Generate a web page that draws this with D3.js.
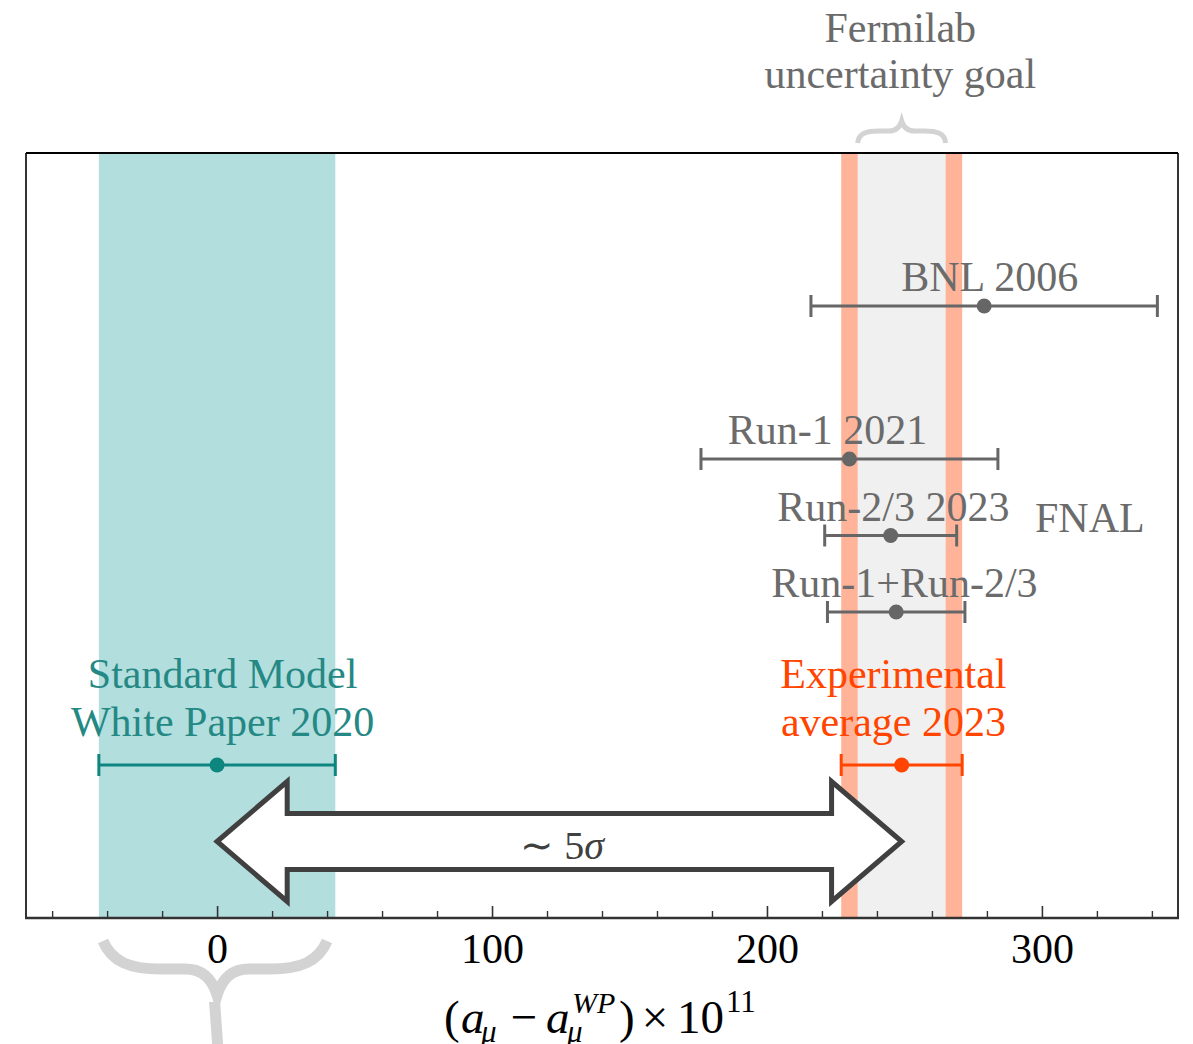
<!DOCTYPE html>
<html><head><meta charset="utf-8">
<script src="https://cdn.jsdelivr.net/npm/d3@7"></script>
<style>
html,body{margin:0;padding:0;background:#fff;}
svg{display:block;font-family:"Liberation Serif","Times New Roman",serif;}
</style></head>
<body>
<svg id="chart" width="1193" height="1044"></svg>
<script>
// ---- data (units of 1e-11, relative to WP 2020) ----
const expNames   = ["BNL 2006", "Run-1 2021", "Run-2/3 2023", "Run-1+Run-2/3"];
const expValues  = [279, 230, 245, 247];
const expErrors  = [63, 54, 24, 25];
const expRows    = [8, 6, 5, 4];
const expLabelX  = [281, 222, 246, 250];

const smName     = ["Standard Model", "White Paper 2020"];
const smValue    = 0;
const smError    = 43;
const avgName    = ["Experimental", "average 2023"];
const avgValue   = 249;
const avgError   = 22;
const goalError  = 16;
const goalName   = ["Fermilab", "uncertainty goal"];
const resultRow  = 2;
const arrowRow   = 1;
const fnalLabel  = "FNAL";

const majorTicks = [0, 100, 200, 300];
const minorTicks = d3.range(-60, 341, 20).filter(v => v % 100 !== 0);
const xDomain    = [-69.5, 349.5];

// ---- layout ----
const L = 26, R = 1178, T = 153, B = 918;
const svg = d3.select("#chart");
const x = d3.scaleLinear().domain(xDomain).range([L, R]);
const y = d3.scaleLinear().domain([0, 10]).range([B, T]);

const GRAY = "#6b6b6b", GRAYBAR = "#666666";
const TEAL_TXT = "#248884", TEAL_BAR = "#0d8680";
const ORANGE = "#ff4500";
const FS = 42;

// bands
svg.append("rect").attr("x", x(smValue - smError)).attr("y", T)
  .attr("width", x(smValue + smError) - x(smValue - smError)).attr("height", B - T)
  .attr("fill", "#b3dede");
svg.append("rect").attr("x", x(avgValue - avgError)).attr("y", T)
  .attr("width", x(avgValue + avgError) - x(avgValue - avgError)).attr("height", B - T)
  .attr("fill", "#ffb499");
svg.append("rect").attr("x", x(avgValue - goalError)).attr("y", T)
  .attr("width", x(avgValue + goalError) - x(avgValue - goalError)).attr("height", B - T)
  .attr("fill", "#f0f0f0");

// double arrow
const ay = y(arrowRow), hl = x(25.5) - x(0), sh = 28, hh = 60;
const x0 = x(smValue), x1 = x(avgValue);
const arrowPts = [
  [x0, ay], [x0 + hl, ay - hh], [x0 + hl, ay - sh], [x1 - hl, ay - sh], [x1 - hl, ay - hh],
  [x1, ay], [x1 - hl, ay + hh], [x1 - hl, ay + sh], [x0 + hl, ay + sh], [x0 + hl, ay + hh]
];
svg.append("path").attr("d", d3.line()(arrowPts) + "Z")
  .attr("fill", "#fff").attr("stroke", "#404040").attr("stroke-width", 5)
  .attr("stroke-linejoin", "miter");
const at = svg.append("text").attr("x", x(125.5)).attr("y", ay + 17)
  .attr("text-anchor", "middle").attr("font-size", 40).attr("fill", "#404040");
at.append("tspan").text("∼ 5");
at.append("tspan").attr("font-style", "italic").text("σ");

// error bar helper
function errbar(v, e, row, color) {
  const g = svg.append("g");
  const yy = y(row);
  g.append("line").attr("x1", x(v - e)).attr("x2", x(v + e)).attr("y1", yy).attr("y2", yy)
    .attr("stroke", color).attr("stroke-width", 3);
  [v - e, v + e].forEach(c => g.append("line").attr("x1", x(c)).attr("x2", x(c))
    .attr("y1", yy - 11).attr("y2", yy + 11).attr("stroke", color).attr("stroke-width", 3));
  g.append("circle").attr("cx", x(v)).attr("cy", yy).attr("r", 7.5).attr("fill", color);
}

expValues.forEach((v, i) => {
  errbar(v, expErrors[i], expRows[i], GRAYBAR);
  svg.append("text").attr("x", x(expLabelX[i])).attr("y", y(expRows[i]) - 15)
    .attr("text-anchor", "middle").attr("font-size", FS).attr("fill", GRAY).text(expNames[i]);
});
svg.append("text").attr("x", x(297.5)).attr("y", y(5) - 4)
  .attr("font-size", FS).attr("fill", GRAY).text(fnalLabel);

errbar(smValue, smError, resultRow, TEAL_BAR);
smName.forEach((t, i) => svg.append("text").attr("x", x(2)).attr("y", y(resultRow) - 77 + 48 * i)
  .attr("text-anchor", "middle").attr("font-size", FS).attr("fill", TEAL_TXT).text(t));

errbar(avgValue, avgError, resultRow, ORANGE);
avgName.forEach((t, i) => svg.append("text").attr("x", x(246)).attr("y", y(resultRow) - 77 + 48 * i)
  .attr("text-anchor", "middle").attr("font-size", FS).attr("fill", ORANGE).text(t));

// Fermilab goal annotation
goalName.forEach((t, i) => svg.append("text").attr("x", x(248.5)).attr("y", 42 + 46 * i)
  .attr("text-anchor", "middle").attr("font-size", FS).attr("fill", GRAY).text(t));
{
  const a = x(avgValue - goalError), b = x(avgValue + goalError), c = (a + b) / 2;
  svg.append("path").attr("d",
    `M${a},143 C${a+1},133 ${a+9},131 ${a+21},131 L${c-13},131 C${c-6},131 ${c-2},128 ${c},121 ` +
    `C${c+2},128 ${c+6},131 ${c+13},131 L${b-21},131 C${b-9},131 ${b-1},133 ${b},143`)
    .attr("fill", "none").attr("stroke", "#d3d3d3").attr("stroke-width", 5);
}

// axis
const gx = svg.append("g").attr("transform", `translate(0,${B})`);
gx.call(d3.axisBottom(x).tickValues(majorTicks).tickSizeInner(-12).tickSizeOuter(0).tickPadding(15));
gx.select(".domain").remove();
gx.selectAll(".tick line").attr("stroke", "#333").attr("stroke-width", 1.6);
gx.selectAll(".tick text").attr("font-size", 42).attr("fill", "#000")
  .attr("font-family", "Liberation Serif");
const gm = svg.append("g").attr("transform", `translate(0,${B})`);
gm.call(d3.axisBottom(x).tickValues(minorTicks).tickSizeInner(-7).tickSizeOuter(0).tickFormat(""));
gm.select(".domain").remove();
gm.selectAll(".tick line").attr("stroke", "#333").attr("stroke-width", 1.4);

// frame
svg.append("line").attr("x1", L).attr("x2", R).attr("y1", T).attr("y2", T).attr("stroke", "#000").attr("stroke-width", 1.8);
svg.append("line").attr("x1", L).attr("x2", L).attr("y1", T).attr("y2", B).attr("stroke", "#000").attr("stroke-width", 1.6);
svg.append("line").attr("x1", R).attr("x2", R).attr("y1", T).attr("y2", B).attr("stroke", "#000").attr("stroke-width", 1.6);
svg.append("line").attr("x1", L - 1).attr("x2", R + 1).attr("y1", B).attr("y2", B).attr("stroke", "#333").attr("stroke-width", 2.4);

// bottom brace under SM band
{
  const a = x(-41.5), b = x(40), c = x(0);
  svg.append("path").attr("d",
    `M${a},941 C${a+9},962 ${a+27},969 ${a+57},969 L${c-32},969 C${c-14},969 ${c-5},979 ${c},995 ` +
    `C${c+5},979 ${c+14},969 ${c+32},969 L${b-57},969 C${b-27},969 ${b-9},962 ${b},941`)
    .attr("fill", "none").attr("stroke", "#d3d3d3").attr("stroke-width", 11);
  svg.append("path").attr("d", `M${c-8},1002 L${c+3},1002 L${c+6},1044 L${c-5},1044 Z`)
    .attr("fill", "#d3d3d3");
}

// x-axis label (pieces placed explicitly)
const lab = svg.append("g").attr("fill", "#000");
const base = 1033;
function piece(t, px, py, fs, italic, anchor) {
  lab.append("text").attr("x", px).attr("y", py).attr("font-size", fs)
    .attr("font-style", italic ? "italic" : "normal")
    .attr("text-anchor", anchor || "start").text(t);
}
piece("(", 444, base, 47, false);
piece("a", 461, base, 47, true);
piece("μ", 481, base + 9, 31, true);
piece("−", 524, base, 47, false, "middle");
piece("a", 546, base, 47, true);
piece("μ", 567, base + 9, 31, true);
piece("WP", 572, 1013, 30, true);
piece(")", 619, base, 47, false);
piece("×", 655, base, 47, false, "middle");
piece("10", 677, base, 47, false);
piece("11", 726, 1012, 31, false);
</script>
</body></html>
